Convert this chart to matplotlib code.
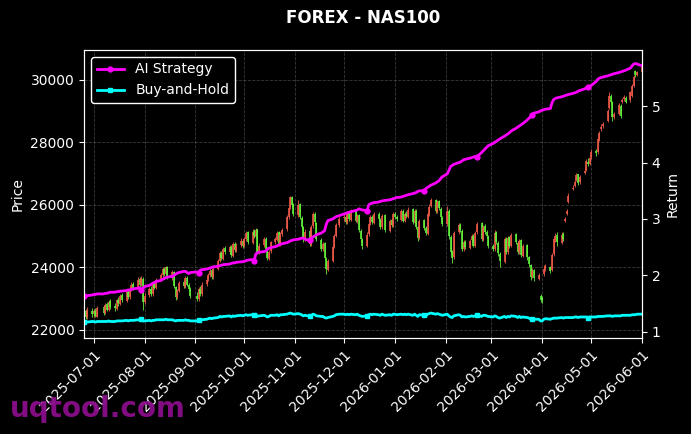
import numpy as np
import pandas as pd
import matplotlib
matplotlib.use("Agg")
import matplotlib.pyplot as plt
import matplotlib.dates as mdates

# trading days (weekdays minus a few holidays)
holidays = ["2025-07-04", "2025-09-01", "2025-11-27", "2025-12-25"]
dates = pd.bdate_range("2025-06-25", "2026-06-01", freq="C", holidays=holidays)

# NAS100 daily candles, one line per month (Jun-25 ... Jun-26)
opens = [
    22450, 22600, 22400, 22620,
    22500, 22620, 22430, 22720, 22540, 22820, 22640, 22920, 22760, 22680, 22960, 22840, 23120, 22940, 23220, 23040, 23320, 23460, 23340, 23620, 23440, 23640,
    22880, 23120, 23320, 23140, 23520, 23340, 23620, 23760, 23960, 23790, 24020, 23680, 23860, 23380, 23040, 23260, 23520, 23380, 23660, 23440, 23310,
    23090, 22980, 23320, 23140, 23460, 23620, 23760, 23920, 23680, 23960, 24220, 24460, 24280, 24620, 24480, 24660, 24380, 24760, 24540, 24720, 24860,
    24680, 24920, 25120, 24780, 25160, 24980, 25220, 24480, 24720, 24920, 24580, 24280, 24520, 24820, 24880, 25120, 24730, 25070, 25220, 25620, 25920, 26270, 26020,
    25680, 26020, 25580, 25280, 24880, 25170, 24730, 25320, 25720, 25430, 24880, 24580, 24770, 24280, 23930, 24220, 24670, 25020, 25370,
    25570, 25620, 25430, 25770, 25530, 25820, 25480, 25670, 25180, 24880, 24680, 25070, 25420, 25620, 25430, 25720, 25530, 25280, 25670, 25180, 25520, 25330,
    25720, 25620, 25530, 25820, 25480, 25720, 25630, 25870, 25430, 25820, 25280, 24930, 25520, 25270, 25080, 25720, 25970, 26170, 25780, 26120, 25880, 25580,
    25380, 25820, 24980, 24480, 24320, 25120, 25370, 25180, 24580, 24820, 24630, 24870, 25020, 24680, 25120, 25420, 24880, 25320, 25130, 24980,
    24680, 24580, 25120, 24780, 24430, 24180, 24920, 24480, 24970, 24680, 25070, 24780, 24480, 24870, 24380, 24720, 24330, 24080, 23720, 23920, 23630, 23100,
    23020, 23780, 23960, 24000, 23920, 24420, 24880, 25050, 24780, 25080, 25500, 25720, 26100, 26520, 26600, 26800, 26980, 26720, 27020, 27120, 27380, 27320,
    27520, 27720, 27680, 28120, 28420, 28520, 28700, 29100, 29480, 29280, 28820, 28920, 29180, 29300, 29380, 29420, 29350, 29500, 29820, 30300, 30160,
    30250,
]
closes = [
    22550, 22400, 22650, 22500,
    22600, 22450, 22700, 22550, 22800, 22650, 22900, 22750, 22700, 22950, 22850, 23100, 22950, 23200, 23050, 23300, 23450, 23350, 23600, 23450, 23650, 22900,
    23100, 23300, 23150, 23500, 23350, 23600, 23750, 23950, 23800, 24000, 23700, 23850, 23400, 23050, 23250, 23500, 23400, 23650, 23450, 23300, 23100,
    23000, 23300, 23150, 23450, 23600, 23750, 23900, 23700, 23950, 24200, 24450, 24300, 24600, 24500, 24650, 24400, 24750, 24550, 24700, 24850, 24700,
    24900, 25100, 24800, 25150, 25000, 25200, 24500, 24700, 24900, 24600, 24300, 24500, 24800, 24900, 25100, 24750, 25050, 25200, 25600, 25900, 26250, 26000, 25700,
    26000, 25600, 25300, 24900, 25150, 24750, 25300, 25700, 25450, 24900, 24600, 24750, 24300, 23950, 24200, 24650, 25000, 25350, 25550,
    25600, 25450, 25750, 25550, 25800, 25500, 25650, 25200, 24900, 24700, 25050, 25400, 25600, 25450, 25700, 25550, 25300, 25650, 25200, 25500, 25350, 25700,
    25600, 25550, 25800, 25500, 25700, 25650, 25850, 25450, 25800, 25300, 24950, 25500, 25250, 25100, 25700, 25950, 26150, 25800, 26100, 25900, 25600, 25400,
    25800, 25000, 24500, 24300, 25100, 25350, 25200, 24600, 24800, 24650, 24850, 25000, 24700, 25100, 25400, 24900, 25300, 25150, 25000, 24700,
    24600, 25100, 24800, 24450, 24200, 24900, 24500, 24950, 24700, 25050, 24800, 24500, 24850, 24400, 24700, 24350, 24100, 23700, 23900, 23650, 23750, 22950,
    22950, 23950, 24050, 23900, 24400, 24900, 25000, 24800, 25050, 24900, 25550, 25800, 26300, 26550, 26750, 26950, 26700, 26900, 27100, 27400, 27300, 27500,
    27700, 27650, 28100, 28300, 28500, 28600, 29000, 29500, 29300, 28800, 28900, 29200, 28850, 29350, 29450, 29300, 29600, 29800, 30100, 30150, 30250,
    30420,
]
highs = [
    22650, 22680, 22720, 22700,
    22680, 22700, 22760, 22800, 22860, 22880, 22960, 22980, 22850, 23000, 23050, 23160, 23180, 23260, 23280, 23380, 23520, 23550, 23680, 23700, 23720, 23700,
    23180, 23380, 23400, 23560, 23580, 23660, 23820, 24020, 24000, 24060, 24050, 23920, 23900, 23420, 23320, 23560, 23600, 23720, 23720, 23500, 23360,
    23200, 23380, 23400, 23520, 23680, 23820, 23980, 23960, 24020, 24260, 24520, 24540, 24660, 24700, 24720, 24720, 24820, 24820, 24780, 24950, 24920,
    24980, 25180, 25160, 25220, 25240, 25260, 25240, 24780, 24980, 24960, 24640, 24560, 24860, 24980, 25180, 25160, 25120, 25260, 25680, 25980, 26300, 26300, 26060,
    26150, 26060, 25640, 25320, 25220, 25220, 25360, 25760, 25760, 25460, 24940, 24820, 24820, 24320, 24280, 24700, 25060, 25420, 25620,
    25700, 25680, 25820, 25820, 25860, 25860, 25720, 25700, 25240, 24940, 25120, 25460, 25680, 25680, 25760, 25780, 25580, 25720, 25700, 25560, 25580, 25760,
    25760, 25680, 25860, 25860, 25760, 25800, 25920, 25900, 25860, 25860, 25320, 25560, 25560, 25320, 25760, 26020, 26220, 26200, 26160, 26160, 25940, 25640,
    25960, 25860, 25040, 24560, 25180, 25420, 25420, 25220, 24880, 24880, 24920, 25080, 25060, 25160, 25460, 25460, 25360, 25380, 25200, 25040,
    24760, 25200, 25160, 24840, 24480, 24980, 24960, 25020, 25020, 25100, 25100, 24840, 24920, 24920, 24760, 24760, 24380, 24120, 23980, 23960, 23820, 23150,
    23080, 24080, 24100, 24060, 24460, 24960, 25100, 25150, 25120, 25150, 25620, 25860, 26380, 26640, 26820, 27020, 27000, 26960, 27200, 27480, 27500, 27560,
    27780, 27800, 28160, 28360, 28580, 28660, 29060, 29600, 29560, 29320, 28980, 29260, 29220, 29420, 29520, 29480, 29650, 29880, 30160, 30320, 30300,
    30480,
]
lows = [
    22380, 22350, 22360, 22420,
    22430, 22400, 22400, 22480, 22500, 22600, 22600, 22680, 22620, 22640, 22780, 22800, 22880, 22900, 23000, 23000, 23250, 23280, 23300, 23380, 23400, 22650,
    22820, 23050, 23080, 23100, 23300, 23300, 23560, 23700, 23720, 23750, 23620, 23600, 23350, 22950, 22980, 23200, 23330, 23340, 23400, 23240, 23020,
    22920, 22940, 23080, 23100, 23400, 23560, 23700, 23640, 23640, 23920, 24160, 24240, 24240, 24440, 24420, 24340, 24340, 24480, 24480, 24660, 24620,
    24640, 24860, 24740, 24740, 24940, 24940, 24420, 24420, 24660, 24540, 24240, 24240, 24460, 24740, 24840, 24680, 24680, 25000, 25160, 25560, 25860, 25940, 25640,
    25620, 25540, 25220, 24820, 24840, 24680, 24700, 25260, 25380, 24840, 24540, 24540, 24240, 23800, 23880, 24160, 24620, 24960, 25300,
    25480, 25380, 25400, 25480, 25480, 25440, 25420, 25120, 24820, 24600, 24640, 25020, 25360, 25380, 25380, 25480, 25240, 25240, 25140, 25140, 25280, 25300,
    25540, 25480, 25480, 25440, 25440, 25580, 25580, 25380, 25380, 25240, 24860, 24900, 25200, 25040, 25040, 25660, 25920, 25740, 25740, 25840, 25540, 25340,
    25340, 24920, 24420, 24150, 24280, 25060, 25140, 24520, 24520, 24580, 24580, 24820, 24640, 24640, 25060, 24840, 24840, 25080, 24940, 24620,
    24520, 24540, 24740, 24360, 24000, 24140, 24440, 24440, 24620, 24640, 24740, 24420, 24440, 24320, 24340, 24250, 24020, 23600, 23660, 23580, 23600, 22880,
    22850, 23740, 23900, 23820, 23880, 24380, 24820, 24700, 24740, 24840, 25450, 25680, 26060, 26480, 26560, 26760, 26640, 26660, 26980, 27080, 27240, 27280,
    27480, 27560, 27640, 28060, 28380, 28460, 28660, 29060, 29240, 28680, 28760, 28880, 28780, 29260, 29340, 29260, 29300, 29460, 29780, 30100, 30120,
    30220,
]

# cumulative returns (right axis)
ai_strategy = [
    1.63, 1.64, 1.64, 1.65,
    1.66, 1.66, 1.67, 1.67, 1.68, 1.68, 1.69, 1.70, 1.70, 1.71, 1.71, 1.72, 1.72, 1.73, 1.74, 1.74, 1.75, 1.76, 1.77, 1.78, 1.74, 1.77,
    1.80, 1.82, 1.84, 1.86, 1.87, 1.89, 1.91, 1.93, 1.94, 1.96, 1.97, 1.98, 2.00, 2.02, 2.04, 2.05, 2.07, 2.07, 2.05, 2.03, 2.05,
    2.06, 2.04, 2.09, 2.10, 2.11, 2.12, 2.13, 2.14, 2.15, 2.16, 2.17, 2.18, 2.19, 2.19, 2.20, 2.21, 2.22, 2.22, 2.23, 2.24, 2.24,
    2.25, 2.26, 2.27, 2.28, 2.26, 2.38, 2.40, 2.41, 2.42, 2.43, 2.46, 2.48, 2.49, 2.51, 2.52, 2.54, 2.55, 2.56, 2.58, 2.59, 2.61, 2.62, 2.63,
    2.64, 2.65, 2.66, 2.66, 2.64, 2.62, 2.66, 2.68, 2.70, 2.72, 2.75, 2.77, 2.79, 2.90, 2.97, 3.00, 3.02, 3.04, 3.06,
    3.09, 3.10, 3.11, 3.12, 3.13, 3.15, 3.16, 3.18, 3.17, 3.16, 3.15, 3.25, 3.27, 3.28, 3.29, 3.30, 3.31, 3.32, 3.33, 3.34, 3.35, 3.36,
    3.37, 3.38, 3.39, 3.40, 3.41, 3.42, 3.43, 3.45, 3.46, 3.47, 3.49, 3.50, 3.50, 3.54, 3.56, 3.58, 3.60, 3.64, 3.66, 3.68, 3.72, 3.75,
    3.80, 3.86, 3.93, 3.95, 3.97, 4.00, 4.01, 4.03, 4.05, 4.06, 4.08, 4.09, 4.10, 4.11, 4.10, 4.18, 4.21, 4.24, 4.27, 4.30,
    4.34, 4.36, 4.38, 4.40, 4.42, 4.47, 4.49, 4.51, 4.53, 4.56, 4.61, 4.63, 4.65, 4.67, 4.69, 4.76, 4.79, 4.82, 4.85, 4.88, 4.90, 4.92,
    4.93, 4.94, 4.95, 4.96, 5.06, 5.12, 5.14, 5.15, 5.17, 5.18, 5.19, 5.20, 5.21, 5.23, 5.24, 5.25, 5.27, 5.28, 5.31, 5.33, 5.34, 5.35,
    5.37, 5.44, 5.48, 5.50, 5.51, 5.52, 5.54, 5.55, 5.56, 5.57, 5.58, 5.60, 5.61, 5.62, 5.63, 5.64, 5.68, 5.72, 5.75, 5.76, 5.75,
    5.72,
]
buy_hold = [
    1.17, 1.18, 1.17, 1.18,
    1.18, 1.17, 1.18, 1.18, 1.18, 1.18, 1.19, 1.18, 1.18, 1.19, 1.19, 1.19, 1.19, 1.20, 1.19, 1.20, 1.20, 1.20, 1.21, 1.21, 1.23, 1.19,
    1.19, 1.20, 1.19, 1.20, 1.20, 1.21, 1.21, 1.21, 1.21, 1.22, 1.21, 1.21, 1.20, 1.19, 1.20, 1.20, 1.20, 1.21, 1.20, 1.20, 1.19,
    1.19, 1.21, 1.20, 1.21, 1.22, 1.23, 1.24, 1.23, 1.24, 1.25, 1.27, 1.26, 1.27, 1.27, 1.28, 1.26, 1.28, 1.27, 1.28, 1.29, 1.28,
    1.29, 1.30, 1.29, 1.30, 1.29, 1.31, 1.27, 1.28, 1.29, 1.28, 1.26, 1.27, 1.29, 1.29, 1.30, 1.28, 1.30, 1.30, 1.31, 1.32, 1.33, 1.32, 1.31,
    1.32, 1.31, 1.30, 1.28, 1.29, 1.27, 1.29, 1.31, 1.30, 1.28, 1.27, 1.27, 1.25, 1.24, 1.25, 1.27, 1.28, 1.30, 1.31,
    1.31, 1.30, 1.31, 1.30, 1.31, 1.30, 1.31, 1.29, 1.28, 1.27, 1.28, 1.30, 1.31, 1.30, 1.31, 1.30, 1.29, 1.31, 1.29, 1.30, 1.29, 1.31,
    1.31, 1.30, 1.31, 1.30, 1.31, 1.30, 1.31, 1.29, 1.31, 1.29, 1.27, 1.30, 1.29, 1.28, 1.31, 1.32, 1.33, 1.31, 1.32, 1.31, 1.30, 1.29,
    1.31, 1.28, 1.26, 1.25, 1.28, 1.30, 1.29, 1.26, 1.27, 1.26, 1.27, 1.28, 1.27, 1.28, 1.30, 1.27, 1.29, 1.29, 1.28, 1.27,
    1.26, 1.28, 1.27, 1.25, 1.24, 1.27, 1.25, 1.27, 1.26, 1.28, 1.27, 1.25, 1.27, 1.25, 1.26, 1.25, 1.24, 1.22, 1.23, 1.22, 1.22, 1.19,
    1.19, 1.22, 1.23, 1.22, 1.23, 1.24, 1.24, 1.24, 1.25, 1.24, 1.25, 1.25, 1.25, 1.25, 1.26, 1.26, 1.25, 1.26, 1.26, 1.26, 1.25, 1.26,
    1.26, 1.26, 1.27, 1.27, 1.27, 1.27, 1.28, 1.28, 1.28, 1.27, 1.28, 1.28, 1.28, 1.29, 1.29, 1.29, 1.29, 1.30, 1.30, 1.30, 1.31,
    1.31,
]

assert len(dates) == len(opens) == len(closes) == len(highs) == len(lows) == len(ai_strategy) == len(buy_hold)

up_color = "#ef5a48"
down_color = "#62f03a"

o = np.array(opens)
c = np.array(closes)
x = mdates.date2num(dates)
colors = np.where(c >= o, up_color, down_color)

fig, ax = plt.subplots(figsize=(6.91, 4.34), dpi=100, facecolor="black")
ax.set_facecolor("black")
fig.subplots_adjust(left=0.1216, right=0.929, top=0.8848, bottom=0.2212)

# candles: wick + body
ax.vlines(x, lows, highs, colors=colors, linewidth=0.6)
ax.vlines(x, np.minimum(o, c), np.maximum(o, c), colors=colors, linewidth=1.2)

ax.set_xlim(x[0], x[-1])
ax.set_ylim(21744, 30960)
ax.set_ylabel("Price", color="white", fontsize=10)
ax.xaxis.set_major_locator(mdates.MonthLocator())
ax.xaxis.set_major_formatter(mdates.DateFormatter("%Y-%m-%d"))
plt.setp(ax.get_xticklabels(), rotation=45, ha="right", rotation_mode="anchor")
ax.grid(True, linestyle="--", color="gray", alpha=0.45, linewidth=0.6)

ax2 = ax.twinx()
ax2.plot(x, ai_strategy, color="#ff00ff", linewidth=2, marker="o", markersize=3.5,
         markevery=24, label="AI Strategy")
ax2.plot(x, buy_hold, color="#00ffff", linewidth=2, marker="s", markersize=3.5,
         markevery=24, label="Buy-and-Hold")
ax2.set_ylim(0.887, 6.0)
ax2.set_yticks([1, 2, 3, 4, 5])
ax2.set_ylabel("Return", color="white", fontsize=10)

for a in (ax, ax2):
    a.tick_params(colors="white", labelsize=10)
    for s in a.spines.values():
        s.set_color("white")

leg = ax2.legend(loc="upper left", facecolor="black", edgecolor="white",
                 labelcolor="white", fontsize=10, framealpha=1)

fig.suptitle("FOREX - NAS100", color="white", fontsize=12, fontweight="bold",
             x=0.525, y=0.958, va="center")

fig.text(0.014, 0.039, "uqtool.com", color="#8a0d8a", fontsize=20,
         fontweight="bold", va="baseline", alpha=0.95, zorder=0)

fig.savefig("out.png", dpi=100, facecolor="black")
